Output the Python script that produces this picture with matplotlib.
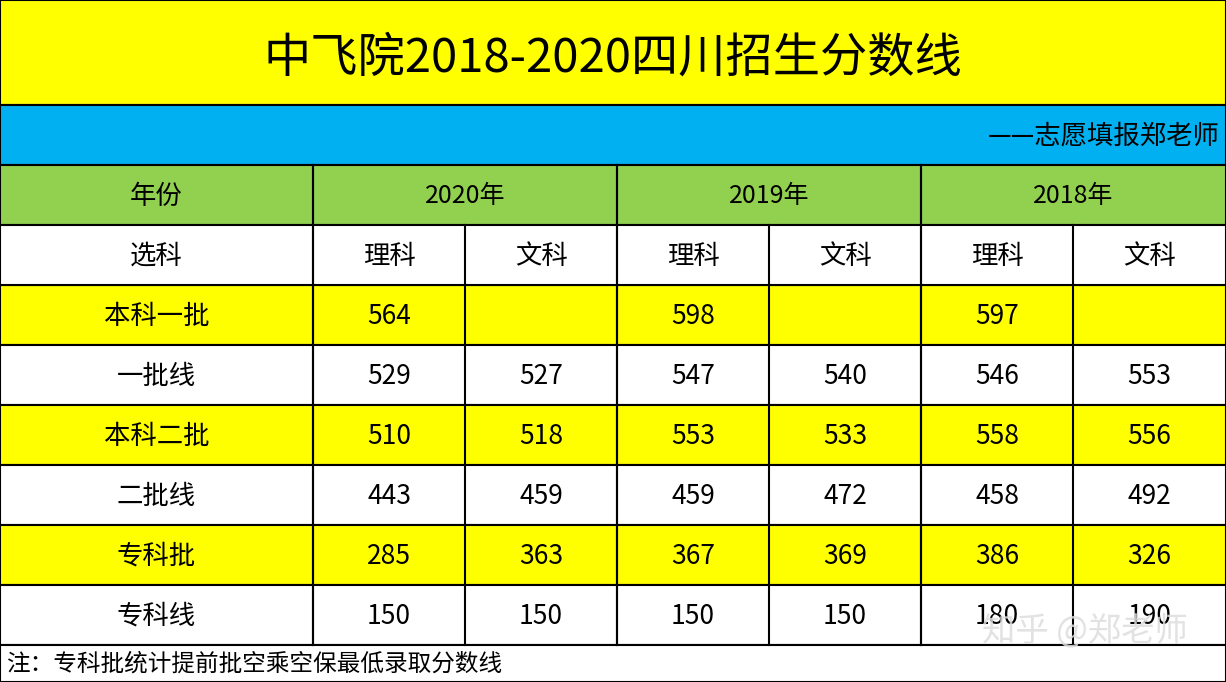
import matplotlib.pyplot as plt
from matplotlib.patches import Rectangle

plt.rcParams["font.family"] = "Noto Sans CJK SC"

title = "中飞院2018-2020四川招生分数线"
subtitle = "——志愿填报郑老师"
years = ["2020年", "2019年", "2018年"]
subjects = ["理科", "文科"]
row_labels = ["本科一批", "一批线", "本科二批", "二批线", "专科批", "专科线"]
row_values = [
    ["564", "", "598", "", "597", ""],
    ["529", "527", "547", "540", "546", "553"],
    ["510", "518", "553", "533", "558", "556"],
    ["443", "459", "459", "472", "458", "492"],
    ["285", "363", "367", "369", "386", "326"],
    ["150", "150", "150", "150", "180", "190"],
]
note = "注：专科批统计提前批空乘空保最低录取分数线"

W, H = 1226, 682
YELLOW, BLUE, GREEN = "#FFFF00", "#00B0F0", "#92D050"
col_x = [0, 313, 465, 617, 769, 921, 1073, 1226]

fig = plt.figure(figsize=(12.26, 6.82), dpi=100)
ax = fig.add_axes([0, 0, 1, 1])
ax.set_xlim(0, W)
ax.set_ylim(H, 0)
ax.axis("off")


def band(y0, y1, color):
    ax.add_patch(Rectangle((0, y0), W, y1 - y0, facecolor=color,
                           edgecolor="black", linewidth=1.5))


band(0, 105, YELLOW)
ax.text(W / 2, 58, title, ha="center", va="center", fontsize=34)
band(105, 165, BLUE)
ax.text(W - 6, 136, subtitle, ha="right", va="center", fontsize=19)

# header rows
band(165, 225, GREEN)
band(225, 285, "white")
ax.text(col_x[1] / 2, 196, "年份", ha="center", va="center", fontsize=19)
ax.text(col_x[1] / 2, 256, "选科", ha="center", va="center", fontsize=19)
for i, year in enumerate(years):
    xa, xb = col_x[1 + 2 * i], col_x[3 + 2 * i]
    ax.plot([xa, xa], [165, 645], color="black", linewidth=1.5)
    ax.text((xa + xb) / 2, 196, year, ha="center", va="center", fontsize=18)
for j in range(6):
    xa, xb = col_x[1 + j], col_x[2 + j]
    ax.plot([xa, xa], [225, 645], color="black", linewidth=1.2)
    ax.text((xa + xb) / 2, 257, subjects[j % 2], ha="center", va="center", fontsize=19)

# data rows
for r, (label, values) in enumerate(zip(row_labels, row_values)):
    y0 = 285 + 60 * r
    ax.add_patch(Rectangle((0, y0), W, 60, facecolor=YELLOW if r % 2 == 0 else "white",
                           edgecolor="black", linewidth=1.5, zorder=0))
    ax.text(col_x[1] / 2, y0 + 31, label, ha="center", va="center", fontsize=19)
    for j, v in enumerate(values):
        ax.text((col_x[1 + j] + col_x[2 + j]) / 2, y0 + 32, v,
                ha="center", va="center", fontsize=19)
for j in range(1, 7):
    ax.plot([col_x[j], col_x[j]], [165 if j % 2 else 225, 645], color="black", linewidth=1.5)

band(645, 682, "white")
ax.text(6, 664, note, ha="left", va="center", fontsize=17)
ax.text(1085, 632, "知乎 @郑老师", ha="center", va="center", fontsize=24,
        color="#dddddd", alpha=0.85)

fig.savefig("out.png", dpi=100)
plt.close(fig)
